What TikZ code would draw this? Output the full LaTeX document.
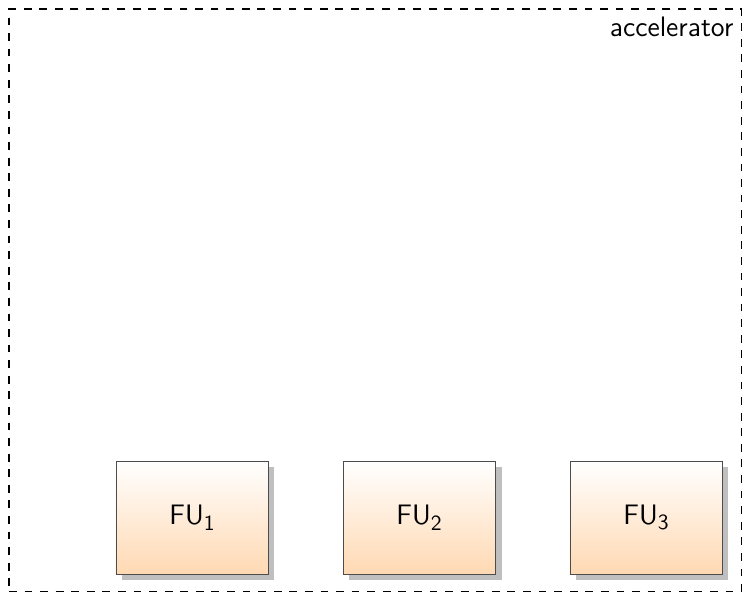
\documentclass[tikz,border=0pt]{standalone}
\usepackage{tikz}
\usetikzlibrary{shadows}
\usetikzlibrary{positioning}

\newcommand{\funame}[1]{FU\raisebox{-0.45ex}{\fontsize{10}{12}\selectfont #1}}

\begin{document}
\begin{tikzpicture}[font=\sffamily\fontsize{13}{16}\selectfont,
    fu/.style={rectangle,draw=black!70,line width=0.4pt,
               minimum width=2.47cm,minimum height=1.836cm,
               top color=white,bottom color=orange!30,
               drop shadow={shadow xshift=0.105cm,shadow yshift=-0.1cm,fill=black!25,opacity=1}},
    frame/.style={rectangle,draw,line width=0.85pt,dash pattern=on 3.6pt off 3.6pt,
               minimum width=11.9cm,minimum height=9.463cm}]

            % \draw [help lines] (0,0) grid (12,9);
            \useasboundingbox (0,0) rectangle (12.07,9.633);

            \path   (6.096,4.756) node (acc) [frame] {}

                    (3.119,1.226) node (fu1) [fu] {\funame{1}}
                    (6.807,1.226) node (fu2) [fu] {\funame{2}}
                    (10.494,1.226) node (fu3) [fu] {\funame{3}};

            \node (acclabel) [anchor=north east,inner sep=4pt] at (acc.north east) {accelerator};
\end{tikzpicture}
\end{document}
